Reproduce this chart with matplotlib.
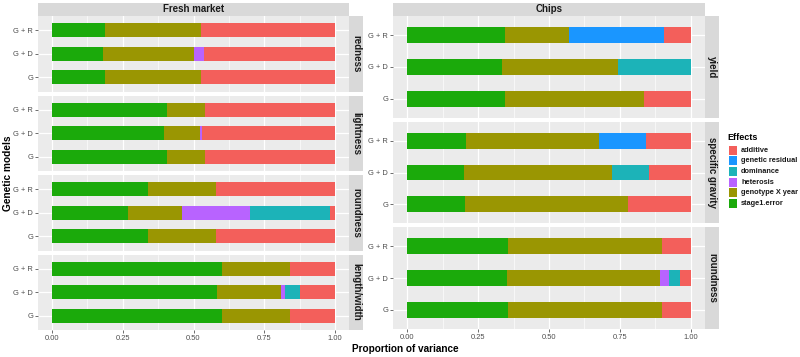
import matplotlib
matplotlib.use("Agg")
import matplotlib.pyplot as plt
import numpy as np
from matplotlib.patches import Rectangle

plt.rcParams["font.family"] = ["Liberation Sans", "DejaVu Sans"]

W, H = 800, 357

effects = ["stage1.error", "genotype X year", "heterosis", "dominance",
           "genetic residual", "additive"]
colors = {"additive": "#F35F5B", "genetic residual": "#1A96FF",
          "dominance": "#1CB3B8", "heterosis": "#B863FF",
          "genotype X year": "#9A9602", "stage1.error": "#1BAA0B"}
models = ["G", "G + D", "G + R"]

# proportions per model, order: stage1.error, GxY, heterosis, dominance, gen. residual, additive
fresh_traits = ["redness", "lightness", "roundness", "length/width"]
fresh_redness = {"G": [0.188, 0.340, 0, 0, 0, 0.472],
                 "G + D": [0.179, 0.321, 0.037, 0, 0, 0.463],
                 "G + R": [0.188, 0.340, 0, 0, 0, 0.472]}
fresh_lightness = {"G": [0.406, 0.133, 0, 0, 0, 0.461],
                   "G + D": [0.397, 0.126, 0.006, 0, 0, 0.471],
                   "G + R": [0.406, 0.133, 0, 0, 0, 0.461]}
fresh_roundness = {"G": [0.340, 0.241, 0, 0, 0, 0.419],
                   "G + D": [0.270, 0.189, 0.242, 0.281, 0, 0.018],
                   "G + R": [0.340, 0.241, 0, 0, 0, 0.419]}
fresh_lw = {"G": [0.601, 0.239, 0, 0, 0, 0.160],
            "G + D": [0.583, 0.225, 0.016, 0.051, 0, 0.125],
            "G + R": [0.601, 0.239, 0, 0, 0, 0.160]}

chips_traits = ["yield", "specific gravity", "roundness"]
chips_yield = {"G": [0.344, 0.490, 0, 0, 0, 0.166],
               "G + D": [0.333, 0.409, 0, 0.258, 0, 0],
               "G + R": [0.344, 0.227, 0, 0, 0.334, 0.095]}
chips_sg = {"G": [0.205, 0.575, 0, 0, 0, 0.220],
            "G + D": [0.199, 0.523, 0, 0.132, 0, 0.146],
            "G + R": [0.207, 0.469, 0, 0, 0.165, 0.159]}
chips_round = {"G": [0.355, 0.543, 0, 0, 0, 0.102],
               "G + D": [0.352, 0.539, 0.033, 0.038, 0, 0.038],
               "G + R": [0.355, 0.543, 0, 0, 0, 0.102]}

fresh_data = [fresh_redness, fresh_lightness, fresh_roundness, fresh_lw]
chips_data = [chips_yield, chips_sg, chips_round]

PANEL_BG = "#EBEBEB"
STRIP_BG = "#D9D9D9"

fig = plt.figure(figsize=(8, 3.57), dpi=100)


def px_axes(x0, y0, x1, y1):
    return fig.add_axes([x0 / W, 1 - y1 / H, (x1 - x0) / W, (y1 - y0) / H])


def strip(x0, y0, x1, y1, text, rot=0):
    fig.patches.append(Rectangle((x0 / W, 1 - y1 / H), (x1 - x0) / W, (y1 - y0) / H,
                                 transform=fig.transFigure, facecolor=STRIP_BG,
                                 edgecolor="none"))
    fig.text((x0 + x1) / 2 / W, 1 - (y0 + y1) / 2 / H, text, rotation=rot,
             ha="center", va="center", fontsize=7, color="#1A1A1A",
             fontweight="bold")


def draw_panel(ax, data, barh, show_x):
    ax.set_facecolor(PANEL_BG)
    ypos = np.arange(len(models)) + 1
    left = np.zeros(len(models))
    for k, eff in enumerate(effects):
        vals = np.array([data[m][k] for m in models])
        ax.barh(ypos, vals, left=left, height=barh, color=colors[eff],
                edgecolor="none", zorder=3)
        left += vals
    ax.set_xlim(-0.05, 1.05)
    ax.set_ylim(0.4, 3.6)
    ax.set_yticks(ypos)
    ax.set_yticklabels(models)
    ax.set_xticks([0, 0.25, 0.5, 0.75, 1.0])
    ax.set_xticks([0.125, 0.375, 0.625, 0.875], minor=True)
    ax.grid(True, which="major", color="white", lw=0.9, zorder=0)
    ax.grid(True, which="minor", axis="x", color="white", lw=0.45, zorder=0)
    for s in ax.spines.values():
        s.set_visible(False)
    ax.tick_params(axis="both", which="major", length=2, width=0.5,
                   color="#333333", labelsize=5.4, labelcolor="#4D4D4D", pad=1.5)
    ax.tick_params(which="minor", length=0)
    if show_x:
        ax.set_xticklabels(["0.00", "0.25", "0.50", "0.75", "1.00"])
    else:
        ax.tick_params(axis="x", which="major", length=0, labelbottom=False)


# left column: Fresh market
lx0, lx1, sx1 = 38, 349, 363
top, bottom, gap = 16, 330, 4
ph = (bottom - top - gap * 3) / 4
strip(lx0, 3, lx1, top, "Fresh market")
for i, (trait, data) in enumerate(zip(fresh_traits, fresh_data)):
    y0 = top + i * (ph + gap)
    ax = px_axes(lx0, y0, lx1, y0 + ph)
    draw_panel(ax, data, 0.6, i == 3)
    strip(lx1, y0, sx1, y0 + ph, trait, rot=-90)

# right column: Chips
rx0, rx1, rsx1 = 393, 705, 719
ph2 = (329 - top - gap * 2) / 3
strip(rx0, 3, rx1, top, "Chips")
for i, (trait, data) in enumerate(zip(chips_traits, chips_data)):
    y0 = top + i * (ph2 + gap)
    ax = px_axes(rx0, y0, rx1, y0 + ph2)
    draw_panel(ax, data, 0.5, i == 2)
    strip(rx1, y0, rsx1, y0 + ph2, trait, rot=-90)

fig.text(8 / W, 1 - 173 / H, "Genetic models", rotation=90, ha="center",
         va="center", fontsize=7.3, fontweight="bold")
fig.text(405 / W, 1 - 349 / H, "Proportion of variance", ha="center",
         va="center", fontsize=7.2, fontweight="bold")

# legend
fig.text(727 / W, 1 - 138 / H, "Effects", ha="left", va="center",
         fontsize=6.5, fontweight="bold")
legend_order = ["additive", "genetic residual", "dominance", "heterosis",
                "genotype X year", "stage1.error"]
for j, eff in enumerate(legend_order):
    yc = 150 + j * 10.7
    fig.patches.append(Rectangle((729 / W, 1 - (yc + 4.5) / H), 8 / W, 9 / H,
                                 transform=fig.transFigure,
                                 facecolor=colors[eff], edgecolor="none"))
    fig.text(741 / W, 1 - yc / H, eff, ha="left", va="center", fontsize=5.3,
             fontweight="bold", color="#1A1A1A")

fig.savefig("out.png", dpi=100, facecolor="white")
